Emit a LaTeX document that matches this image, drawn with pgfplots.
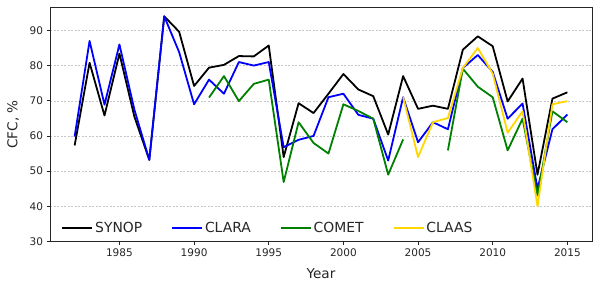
\documentclass[border=0pt]{standalone}
\usepackage{fontspec}
\setmainfont{DejaVu Sans}
\usepackage{pgfplots}
\pgfplotsset{compat=1.18}
\definecolor{mgreen}{HTML}{008000}
\definecolor{mgold}{HTML}{FFD700}
\definecolor{axgray}{HTML}{262626}
\begin{document}
\begin{tikzpicture}
\path[use as bounding box] (0,0) rectangle (600pt,285pt);
\begin{axis}[
  at={(50pt,43.5pt)}, anchor=south west,
  scale only axis, width=542pt, height=234pt,
  xmin=1980.35, xmax=2016.65, ymin=30, ymax=96.5,
  xtick={1985,1990,...,2015}, ytick={30,40,...,90},
  /pgf/number format/assume math mode=true,
  xticklabel={\pgfmathprintnumber[1000 sep={}]{\tick}},
  tick label style={font=\fontsize{10.5}{12}\selectfont, text=axgray},
  tick align=outside, tick pos=left, major tick length=3.5pt,
  every tick/.style={axgray, line width=0.8pt},
  axis line style={axgray, line width=1pt},
  ymajorgrids, grid style={dash pattern=on 2pt off 1.5pt, gray!45, line width=0.5pt},
  xlabel={Year}, ylabel={CFC, \%},
  label style={font=\fontsize{13.6}{15}\selectfont, text=axgray},
  xlabel style={at={(axis description cs:0.5,-0.137)}, anchor=center},
  ylabel style={at={(axis description cs:-0.068,0.5)}, anchor=center},
  legend columns=4,
  legend style={at={(axis cs:1980.9,31.0)}, anchor=south west, draw=none, fill=none,
    font=\fontsize{13.9}{15}\selectfont, text=axgray,
    /tikz/every even column/.append style={column sep=27pt}},
  legend image code/.code={\draw[#1] (0pt,0pt) -- (30pt,0pt);},
  every axis plot/.append style={line width=1.8pt, line join=round},
]
\addplot[black] coordinates {
(1982,57.3)(1983,80.8)(1984,65.8)(1985,83.4)(1986,65.5)(1987,53.2)(1988,94.0)(1989,89.6)
(1990,74.2)(1991,79.4)(1992,80.2)(1993,82.7)(1994,82.6)(1995,85.7)(1996,54.0)(1997,69.3)
(1998,66.5)(1999,72.0)(2000,77.6)(2001,73.2)(2002,71.3)(2003,60.4)(2004,77.0)(2005,67.7)
(2006,68.6)(2007,67.7)(2008,84.5)(2009,88.3)(2010,85.5)(2011,69.8)(2012,76.3)(2013,49.0)
(2014,70.6)(2015,72.4)};
\addlegendentry{SYNOP}
\addplot[blue] coordinates {
(1982,59.8)(1983,87.0)(1984,68.9)(1985,86.0)(1986,67.5)(1987,53.2)(1988,94.0)(1989,83.8)
(1990,69.0)(1991,76.0)(1992,72.0)(1993,81.0)(1994,80.0)(1995,81.0)(1996,56.8)(1997,58.9)
(1998,60.0)(1999,71.0)(2000,72.0)(2001,66.0)(2002,64.9)(2003,53.0)(2004,71.0)(2005,58.2)
(2006,63.9)(2007,61.9)(2008,79.3)(2009,83.0)(2010,78.2)(2011,64.9)(2012,69.2)(2013,45.0)
(2014,61.9)(2015,66.1)};
\addlegendentry{CLARA}
\addplot[mgreen, unbounded coords=jump] coordinates {
(1991,70.9)(1992,77.0)(1993,69.9)(1994,74.8)(1995,76.0)(1996,46.9)(1997,63.9)
(1998,58.0)(1999,55.0)(2000,69.0)(2001,67.1)(2002,64.9)(2003,49.0)(2004,59.0)(2005,nan)
(2006,nan)(2007,55.9)(2008,79.1)(2009,74.0)(2010,71.0)(2011,55.9)(2012,64.9)(2013,43.1)
(2014,67.0)(2015,63.9)};
\addlegendentry{COMET}
\addplot[mgold] coordinates {
(2004,71.0)(2005,54.0)(2006,63.9)(2007,65.1)(2008,79.3)(2009,85.0)(2010,77.7)(2011,60.9)
(2012,67.0)(2013,40.0)(2014,69.0)(2015,69.9)};
\addlegendentry{CLAAS}
\end{axis}
\end{tikzpicture}
\end{document}
